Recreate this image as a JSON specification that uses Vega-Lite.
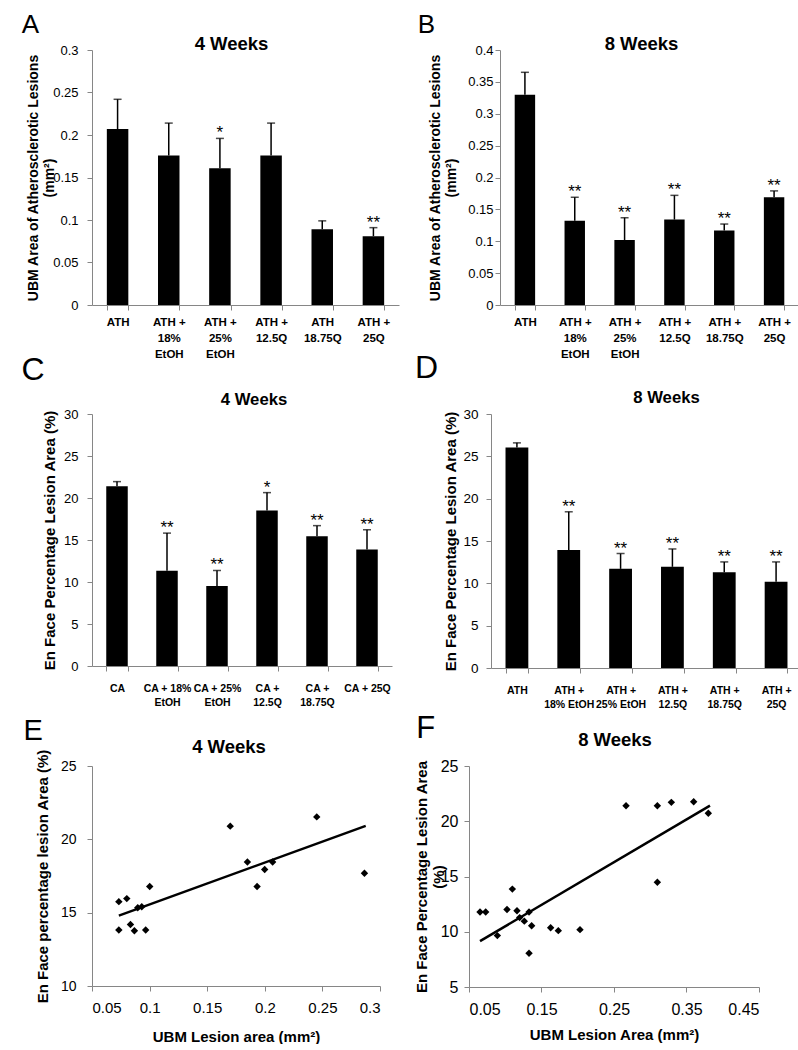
{
  "$schema": "https://vega.github.io/schema/vega-lite/v6.json",
  "padding": {"left": 21, "top": 11, "right": 0, "bottom": 0},
  "background": "white",
  "config": {
    "view": {"stroke": null},
    "font": "Liberation Sans",
    "axis": {"domainColor": "#868686", "tickColor": "#868686", "grid": false, "labelColor": "black", "titleColor": "black", "labelFont": "Liberation Sans", "titleFont": "Liberation Sans", "labelOverlap": false},
    "title": {"color": "black", "font": "Liberation Sans"}
  },
  "spacing": 2,
  "vconcat": [
    {
      "spacing": -8,
      "vconcat": [
        {
          "spacing": 18,
          "hconcat": [
            {
              "title": {"text": "A", "anchor": "start", "frame": "bounds", "fontSize": 26, "fontWeight": "normal", "dx": -5, "offset": -3},
              "vconcat": [
                {
                  "width": 307, "height": 255,
                  "title": {"text": "4 Weeks", "anchor": "middle", "frame": "group", "fontSize": 18.5, "fontWeight": "bold", "dx": -14, "offset": -9},
                  "data": {"values": [
                    {"group": "ATH", "mean": 0.207, "upper": 0.242, "sig": ""},
                    {"group": "ATH +\n18%\nEtOH", "mean": 0.176, "upper": 0.214, "sig": ""},
                    {"group": "ATH +\n25%\nEtOH", "mean": 0.161, "upper": 0.196, "sig": "*"},
                    {"group": "ATH +\n12.5Q", "mean": 0.176, "upper": 0.214, "sig": ""},
                    {"group": "ATH\n18.75Q", "mean": 0.089, "upper": 0.099, "sig": ""},
                    {"group": "ATH +\n25Q", "mean": 0.081, "upper": 0.091, "sig": "**"}
                  ]},
                  "encoding": {
                    "x": {"field": "group", "type": "nominal", "sort": null, "scale": {"paddingInner": 0.58, "paddingOuter": 0.29},
                      "axis": {"title": null, "labelAngle": 0, "tickBand": "extent", "tickSize": 5, "labelPadding": 6, "labelFontWeight": "bold", "labelFontSize": 11.5, "labelLineHeight": 16, "labelOverlap": false, "labelExpr": "split(datum.label, '\\n')"}}
                  },
                  "layer": [
                    {"mark": {"type": "bar", "color": "black"},
                     "encoding": {"y": {"field": "mean", "type": "quantitative", "scale": {"domain": [0, 0.3]},
                       "axis": {"values": [0, 0.05, 0.1, 0.15, 0.2, 0.25, 0.3], "format": "~f", "labelOverlap": false, "labelFontSize": 13, "tickSize": 5, "labelPadding": 9,
                         "title": ["UBM Area of Atherosclerotic Lesions", "(mm²)"], "titleFontSize": 14, "titleFontWeight": "bold", "titleLineHeight": 16, "titlePadding": -4}}}},
                    {"mark": {"type": "rule", "color": "black", "strokeWidth": 1.5},
                     "encoding": {"y": {"field": "mean", "type": "quantitative"}, "y2": {"field": "upper"}}},
                    {"mark": {"type": "tick", "color": "black", "thickness": 1.5, "size": 8},
                     "encoding": {"y": {"field": "upper", "type": "quantitative"}}},
                    {"mark": {"type": "text", "fontSize": 17, "baseline": "alphabetic", "dy": 0, "color": "black"},
                     "encoding": {"y": {"field": "upper", "type": "quantitative"}, "text": {"field": "sig"}}}
                  ]
                }
              ]
            },
            {
              "title": {"text": "B", "anchor": "start", "frame": "bounds", "fontSize": 26, "fontWeight": "normal", "dx": -11, "offset": -3},
              "vconcat": [
                {
                  "width": 299, "height": 255,
                  "title": {"text": "8 Weeks", "anchor": "middle", "frame": "group", "fontSize": 18.5, "fontWeight": "bold", "dx": -8, "offset": -9},
                  "data": {"values": [
                    {"group": "ATH", "mean": 0.33, "upper": 0.365, "sig": ""},
                    {"group": "ATH +\n18%\nEtOH", "mean": 0.132, "upper": 0.169, "sig": "**"},
                    {"group": "ATH +\n25%\nEtOH", "mean": 0.102, "upper": 0.137, "sig": "**"},
                    {"group": "ATH +\n12.5Q", "mean": 0.134, "upper": 0.172, "sig": "**"},
                    {"group": "ATH +\n18.75Q", "mean": 0.117, "upper": 0.127, "sig": "**"},
                    {"group": "ATH +\n25Q", "mean": 0.169, "upper": 0.179, "sig": "**"}
                  ]},
                  "encoding": {
                    "x": {"field": "group", "type": "nominal", "sort": null, "scale": {"paddingInner": 0.59, "paddingOuter": 0.295},
                      "axis": {"title": null, "labelAngle": 0, "tickBand": "extent", "tickSize": 5, "labelPadding": 6, "labelFontWeight": "bold", "labelFontSize": 11.5, "labelLineHeight": 16, "labelOverlap": false, "labelExpr": "split(datum.label, '\\n')"}}
                  },
                  "layer": [
                    {"mark": {"type": "bar", "color": "black"},
                     "encoding": {"y": {"field": "mean", "type": "quantitative", "scale": {"domain": [0, 0.4], "nice": false},
                       "axis": {"tickCount": 8, "format": "~f", "labelOverlap": false, "labelFontSize": 13, "tickSize": 5, "labelPadding": 2,
                         "title": ["UBM Area of Atherosclerotic Lesions", "(mm²)"], "titleFontSize": 14, "titleFontWeight": "bold", "titleLineHeight": 16, "titlePadding": 9}}}},
                    {"mark": {"type": "rule", "color": "black", "strokeWidth": 1.5},
                     "encoding": {"y": {"field": "mean", "type": "quantitative"}, "y2": {"field": "upper"}}},
                    {"mark": {"type": "tick", "color": "black", "thickness": 1.5, "size": 8},
                     "encoding": {"y": {"field": "upper", "type": "quantitative"}}},
                    {"mark": {"type": "text", "fontSize": 17, "baseline": "alphabetic", "dy": 0, "color": "black"},
                     "encoding": {"y": {"field": "upper", "type": "quantitative"}, "text": {"field": "sig"}}}
                  ]
                }
              ]
            }
          ]
        },
        {
          "spacing": 22,
          "hconcat": [
            {
              "title": {"text": "C", "anchor": "start", "frame": "bounds", "fontSize": 32, "fontWeight": "normal", "dx": -21, "offset": 5},
              "vconcat": [
                {
                  "width": 300, "height": 252,
                  "title": {"text": "4 Weeks", "anchor": "middle", "frame": "group", "fontSize": 16.7, "fontWeight": "bold", "dx": 12, "offset": -1},
                  "data": {"values": [
                    {"group": "CA", "mean": 21.4, "upper": 21.95, "sig": ""},
                    {"group": "CA + 18%\nEtOH", "mean": 11.33, "upper": 15.82, "sig": "**"},
                    {"group": "CA + 25%\nEtOH", "mean": 9.52, "upper": 11.37, "sig": "**"},
                    {"group": "CA +\n12.5Q", "mean": 18.5, "upper": 20.64, "sig": "*"},
                    {"group": "CA +\n18.75Q", "mean": 15.46, "upper": 16.71, "sig": "**"},
                    {"group": "CA + 25Q", "mean": 13.86, "upper": 16.22, "sig": "**"}
                  ]},
                  "encoding": {
                    "x": {"field": "group", "type": "nominal", "sort": null, "scale": {"paddingInner": 0.57, "paddingOuter": 0.285},
                      "axis": {"title": null, "labelAngle": 0, "tickBand": "extent", "tickSize": 5, "labelPadding": 12, "labelFontWeight": "bold", "labelFontSize": 10.5, "labelLineHeight": 14, "labelOverlap": false, "labelExpr": "split(datum.label, '\\n')"}}
                  },
                  "layer": [
                    {"mark": {"type": "bar", "color": "black"},
                     "encoding": {"y": {"field": "mean", "type": "quantitative", "scale": {"domain": [0, 30]},
                       "axis": {"values": [0, 5, 10, 15, 20, 25, 30], "labelOverlap": false, "labelFontSize": 13, "tickSize": 5, "labelPadding": 9,
                         "title": "En Face Percentage Lesion Area (%)", "titleFontSize": 15, "titleFontWeight": "bold", "titlePadding": 6}}}},
                    {"mark": {"type": "rule", "color": "black", "strokeWidth": 1.5},
                     "encoding": {"y": {"field": "mean", "type": "quantitative"}, "y2": {"field": "upper"}}},
                    {"mark": {"type": "tick", "color": "black", "thickness": 1.5, "size": 8},
                     "encoding": {"y": {"field": "upper", "type": "quantitative"}}},
                    {"mark": {"type": "text", "fontSize": 17, "baseline": "alphabetic", "dy": 0, "color": "black"},
                     "encoding": {"y": {"field": "upper", "type": "quantitative"}, "text": {"field": "sig"}}}
                  ]
                }
              ]
            },
            {
              "title": {"text": "D", "anchor": "start", "frame": "bounds", "fontSize": 32, "fontWeight": "normal", "dx": -29, "offset": 5},
              "vconcat": [
                {
                  "width": 311, "height": 254,
                  "title": {"text": "8 Weeks", "anchor": "middle", "frame": "group", "fontSize": 16.7, "fontWeight": "bold", "dx": 20, "offset": 0},
                  "data": {"values": [
                    {"group": "ATH", "mean": 26.04, "upper": 26.59, "sig": ""},
                    {"group": "ATH +\n18% EtOH", "mean": 13.94, "upper": 18.45, "sig": "**"},
                    {"group": "ATH +\n25% EtOH", "mean": 11.71, "upper": 13.51, "sig": "**"},
                    {"group": "ATH +\n12.5Q", "mean": 11.95, "upper": 14.06, "sig": "**"},
                    {"group": "ATH +\n18.75Q", "mean": 11.32, "upper": 12.53, "sig": "**"},
                    {"group": "ATH +\n25Q", "mean": 10.18, "upper": 12.53, "sig": "**"}
                  ]},
                  "encoding": {
                    "x": {"field": "group", "type": "nominal", "sort": null, "scale": {"paddingInner": 0.56, "paddingOuter": 0.28},
                      "axis": {"title": null, "labelAngle": 0, "tickBand": "extent", "tickSize": 5, "labelPadding": 12, "labelFontWeight": "bold", "labelFontSize": 10.5, "labelLineHeight": 14, "labelOverlap": false, "labelExpr": "split(datum.label, '\\n')"}}
                  },
                  "layer": [
                    {"mark": {"type": "bar", "color": "black"},
                     "encoding": {"y": {"field": "mean", "type": "quantitative", "scale": {"domain": [0, 30]},
                       "axis": {"values": [0, 5, 10, 15, 20, 25, 30], "labelOverlap": false, "labelFontSize": 13.5, "tickSize": 5, "labelPadding": 8,
                         "title": "En Face Percentage Lesion Area (%)", "titleFontSize": 15, "titleFontWeight": "bold", "titlePadding": 4}}}},
                    {"mark": {"type": "rule", "color": "black", "strokeWidth": 1.5},
                     "encoding": {"y": {"field": "mean", "type": "quantitative"}, "y2": {"field": "upper"}}},
                    {"mark": {"type": "tick", "color": "black", "thickness": 1.5, "size": 8},
                     "encoding": {"y": {"field": "upper", "type": "quantitative"}}},
                    {"mark": {"type": "text", "fontSize": 17, "baseline": "alphabetic", "dy": 0, "color": "black"},
                     "encoding": {"y": {"field": "upper", "type": "quantitative"}, "text": {"field": "sig"}}}
                  ]
                }
              ]
            }
          ]
        }
      ]
    },
    {
      "spacing": 33,
      "hconcat": [
        {
          "title": {"text": "E", "anchor": "start", "frame": "bounds", "fontSize": 29, "fontWeight": "normal", "dx": -12, "offset": -8},
          "vconcat": [
            {
              "width": 288, "height": 220,
              "title": {"text": "4 Weeks", "anchor": "middle", "frame": "group", "fontSize": 18.5, "fontWeight": "bold", "dx": -7, "offset": -8},
              "layer": [
                {"data": {"values": [
                  {"ubm": 0.0733, "enface": 15.75}, {"ubm": 0.0733, "enface": 13.82}, {"ubm": 0.0802, "enface": 15.96},
                  {"ubm": 0.0834, "enface": 14.19}, {"ubm": 0.0868, "enface": 13.77}, {"ubm": 0.0897, "enface": 15.33},
                  {"ubm": 0.0932, "enface": 15.4}, {"ubm": 0.0966, "enface": 13.82}, {"ubm": 0.1001, "enface": 16.78},
                  {"ubm": 0.17, "enface": 20.9}, {"ubm": 0.1849, "enface": 18.45}, {"ubm": 0.1933, "enface": 16.78},
                  {"ubm": 0.1999, "enface": 17.94}, {"ubm": 0.2068, "enface": 18.45}, {"ubm": 0.2451, "enface": 21.53},
                  {"ubm": 0.2865, "enface": 17.69}
                 ]},
                 "mark": {"type": "point", "shape": "diamond", "filled": true, "color": "black", "size": 55, "opacity": 1},
                 "encoding": {
                   "x": {"field": "ubm", "type": "quantitative", "scale": {"domain": [0.05, 0.3], "nice": false},
                     "axis": {"values": [0.05, 0.1, 0.15, 0.2, 0.25, 0.3], "format": "~f", "labelOverlap": false, "labelFontSize": 15, "tickSize": 5, "labelPadding": 9,
                       "title": "UBM Lesion area (mm²)", "titleFontSize": 15, "titleFontWeight": "bold", "titlePadding": 14}},
                   "y": {"field": "enface", "type": "quantitative", "scale": {"domain": [10, 25], "nice": false},
                     "axis": {"values": [10, 15, 20, 25], "labelOverlap": false, "labelFontSize": 14, "tickSize": 5, "labelPadding": 11,
                       "title": "En Face percentage lesion Area (%)", "titleFontSize": 15, "titleFontWeight": "bold", "titlePadding": 10}}
                 }},
                {"data": {"values": [{"ubm": 0.0733, "enface": 14.8}, {"ubm": 0.2876, "enface": 20.92}]},
                 "mark": {"type": "line", "color": "black", "strokeWidth": 2.5},
                 "encoding": {"x": {"field": "ubm", "type": "quantitative"}, "y": {"field": "enface", "type": "quantitative"}}}
              ]
            }
          ]
        },
        {
          "title": {"text": "F", "anchor": "start", "frame": "bounds", "fontSize": 31, "fontWeight": "normal", "dx": 2, "offset": -14},
          "vconcat": [
            {
              "width": 290, "height": 221,
              "title": {"text": "8  Weeks", "anchor": "middle", "frame": "group", "fontSize": 18.5, "fontWeight": "bold", "dx": 1, "offset": 9},
              "layer": [
                {"data": {"values": [
                  {"ubm": 0.0652, "enface": 11.79}, {"ubm": 0.073, "enface": 11.79}, {"ubm": 0.0891, "enface": 9.65},
                  {"ubm": 0.1024, "enface": 12.02}, {"ubm": 0.1098, "enface": 13.86}, {"ubm": 0.1162, "enface": 11.9},
                  {"ubm": 0.1199, "enface": 11.28}, {"ubm": 0.1263, "enface": 10.96}, {"ubm": 0.1328, "enface": 11.79},
                  {"ubm": 0.1364, "enface": 10.54}, {"ubm": 0.1328, "enface": 8.05}, {"ubm": 0.1626, "enface": 10.36},
                  {"ubm": 0.1732, "enface": 10.1}, {"ubm": 0.2031, "enface": 10.19}, {"ubm": 0.2666, "enface": 21.41},
                  {"ubm": 0.3098, "enface": 21.41}, {"ubm": 0.3098, "enface": 14.48}, {"ubm": 0.3291, "enface": 21.71},
                  {"ubm": 0.3599, "enface": 21.77}, {"ubm": 0.3801, "enface": 20.73}
                 ]},
                 "mark": {"type": "point", "shape": "diamond", "filled": true, "color": "black", "size": 55, "opacity": 1},
                 "encoding": {
                   "x": {"field": "ubm", "type": "quantitative", "scale": {"domain": [0.05, 0.45], "nice": false},
                     "axis": {"values": [0.05, 0.15, 0.25, 0.35, 0.45], "format": "~f", "labelOverlap": false, "labelFontSize": 16, "tickSize": 5, "labelPadding": 9,
                       "title": "UBM Lesion Area (mm²)", "titleFontSize": 15, "titleFontWeight": "bold", "titlePadding": 10}},
                   "y": {"field": "enface", "type": "quantitative", "scale": {"domain": [5, 25], "nice": false},
                     "axis": {"values": [5, 10, 15, 20, 25], "labelOverlap": false, "labelFontSize": 16, "tickSize": 5, "labelPadding": 6,
                       "title": ["En Face Percentage Lesion Area", "(%)"], "titleFontSize": 15, "titleFontWeight": "bold", "titleLineHeight": 17, "titlePadding": -6}}
                 }},
                {"data": {"values": [{"ubm": 0.0652, "enface": 9.15}, {"ubm": 0.3824, "enface": 21.41}]},
                 "mark": {"type": "line", "color": "black", "strokeWidth": 2.5},
                 "encoding": {"x": {"field": "ubm", "type": "quantitative"}, "y": {"field": "enface", "type": "quantitative"}}}
              ]
            }
          ]
        }
      ]
    }
  ]
}
